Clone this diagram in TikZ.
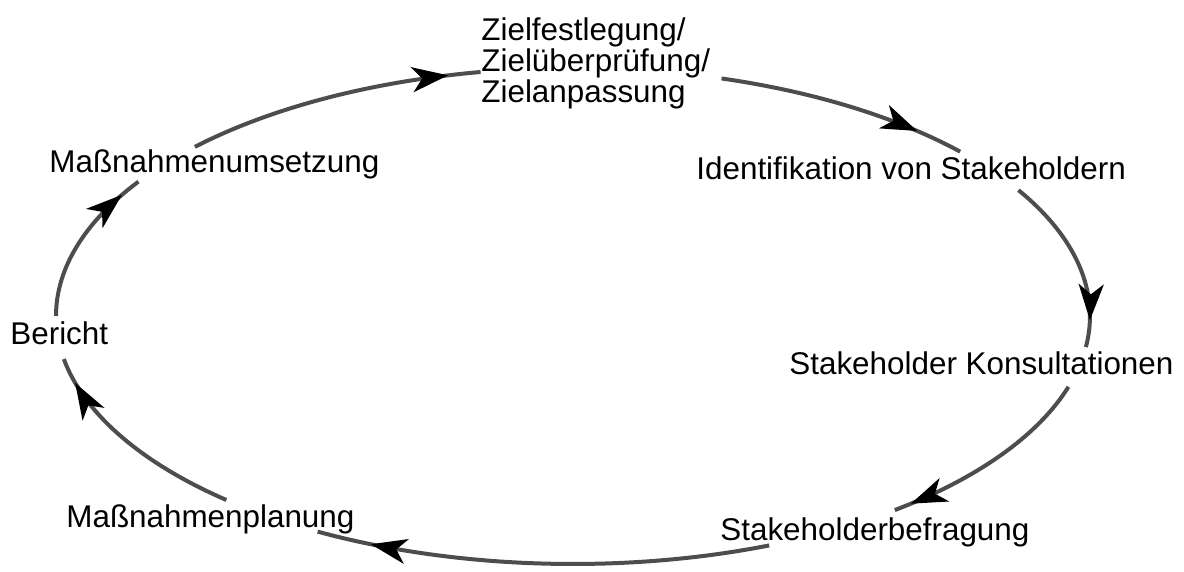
\documentclass[tikz,border=0pt]{standalone}
\usepackage{fontspec}
\setmainfont{Liberation Sans}
\usetikzlibrary{arrows.meta,decorations.markings}

\definecolor{ringgray}{HTML}{4D4D4D}

\tikzset{
  lbl/.style={inner sep=0pt, anchor=base west, font=\fontsize{15.7}{15.5}\selectfont},
  cyc/.style={draw=ringgray, line width=2pt},
  headat/.style={postaction={decorate, decoration={markings,
      mark=at position #1 with {\arrow{Stealth[length=18pt, width=12.5pt, inset=5pt, color=black]}}}}}
}

\begin{document}
\begin{tikzpicture}[x=0.5pt, y=0.5pt]
    \useasboundingbox (0,0) rectangle (1184,572);

    \node[lbl, align=left]  (ziel)    at (481,469) {Zielfestlegung/\\Zielüberprüfung/\\Zielanpassung};
    \node[lbl]              (ident)   at (696,392) {Identifikation von Stakeholdern};
    \node[lbl]              (konsult) at (789,197) {Stakeholder Konsultationen};
    \node[lbl]              (befrag)  at (720,31)  {Stakeholderbefragung};
    \node[lbl]              (planung) at (66,44)   {Maßnahmenplanung};
    \node[lbl]              (bericht) at (10,227)  {Bericht};
    \node[lbl]              (umsetz)  at (49,399)  {Maßnahmenumsetzung};

    % ring centre, arcs run clockwise between the labels
    \coordinate (ctr) at (573,256);
    \coordinate (a1) at ([shift={(137:258.5pt and 124pt)}]ctr);
    \coordinate (a2) at ([shift={(73.3:258.5pt and 124pt)}]ctr);
    \coordinate (a3) at ([shift={(30.5:258.5pt and 124pt)}]ctr);
    \coordinate (a4) at ([shift={(-16.6:258.5pt and 124pt)}]ctr);
    \coordinate (a5) at ([shift={(-67.7:258.5pt and 124pt)}]ctr);
    \coordinate (a6) at ([shift={(-132.1:258.5pt and 124pt)}]ctr);
    \coordinate (a7) at ([shift={(180:258.5pt and 124pt)}]ctr);

    \draw[cyc, headat=0.89] (a1) arc[start angle=137,   end angle=100.3,  x radius=258.5pt, y radius=124pt];
    \draw[cyc, headat=0.81] (a2) arc[start angle=73.3,  end angle=41.5,   x radius=258.5pt, y radius=124pt];
    \draw[cyc, headat=0.85] (a3) arc[start angle=30.5,  end angle=-7.2,   x radius=258.5pt, y radius=124pt];
    \draw[cyc, headat=0.92] (a4) arc[start angle=-16.6, end angle=-51.5,  x radius=258.5pt, y radius=124pt];
    \draw[cyc, headat=0.88] (a5) arc[start angle=-67.7, end angle=-119.6, x radius=258.5pt, y radius=124pt];
    \draw[cyc, headat=0.88] (a6) arc[start angle=-132.1,end angle=-170,   x radius=258.5pt, y radius=124pt];
    \draw[cyc, headat=0.87] (a7) arc[start angle=180,   end angle=147.2,  x radius=258.5pt, y radius=124pt];

\end{tikzpicture}
\end{document}
